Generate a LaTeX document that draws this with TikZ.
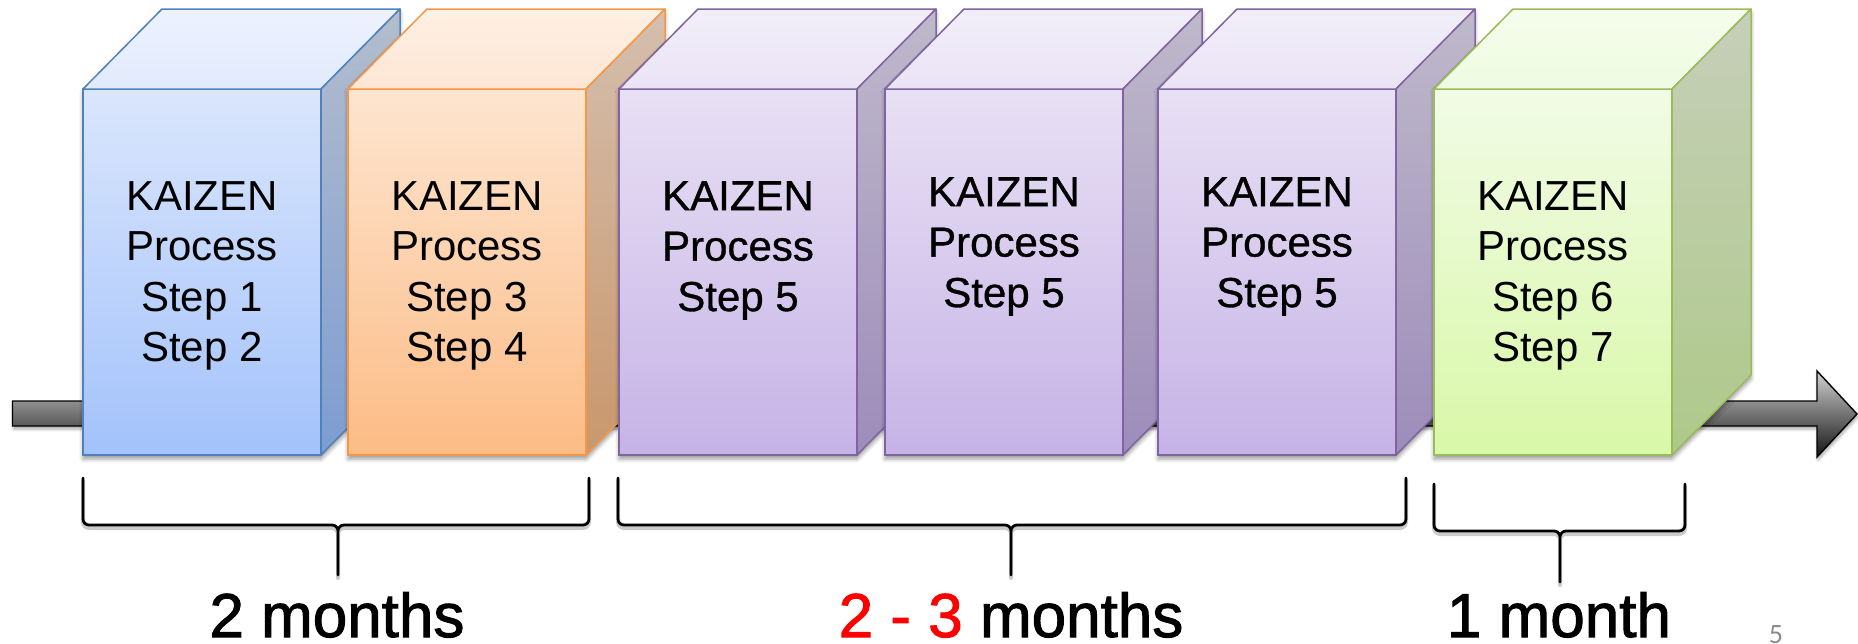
\documentclass[tikz,border=0pt]{standalone}
\usepackage{fontspec}
\setmainfont{Liberation Sans}
\newfontfamily\heavysans[FakeBold=0.8]{Liberation Sans}
\newfontfamily\labelsans[FakeBold=1.6]{Liberation Sans}
\newfontfamily\pagefont{Carlito}
\usetikzlibrary{shadows.blur}

% colour sets: edge, front (top/bottom), top face (top/bottom), side face (top/bottom)
\definecolor{blueedge}{HTML}{4F81BD}
\definecolor{blueftop}{HTML}{DAE6FC}
\definecolor{bluefbot}{HTML}{A3C2FB}
\definecolor{bluettop}{HTML}{EDF2FD}
\definecolor{bluetbot}{HTML}{E1EAFC}
\definecolor{bluestop}{HTML}{B3BDCD}
\definecolor{bluesbot}{HTML}{7C9DD1}

\definecolor{orangeedge}{HTML}{F79646}
\definecolor{orangeftop}{HTML}{FDE5D0}
\definecolor{orangefbot}{HTML}{FCBC86}
\definecolor{orangettop}{HTML}{FEF0E4}
\definecolor{orangetbot}{HTML}{FEE6D4}
\definecolor{orangestop}{HTML}{D4BFAE}
\definecolor{orangesbot}{HTML}{C9976C}

\definecolor{purpleedge}{HTML}{8064A2}
\definecolor{purpleftop}{HTML}{E8E0F4}
\definecolor{purplefbot}{HTML}{C6B3E6}
\definecolor{purplettop}{HTML}{F2EEF9}
\definecolor{purpletbot}{HTML}{EAE4F6}
\definecolor{purplestop}{HTML}{BFB9CB}
\definecolor{purplesbot}{HTML}{9D8CBA}

\definecolor{greenedge}{HTML}{9BBB59}
\definecolor{greenftop}{HTML}{F1FBE6}
\definecolor{greenfbot}{HTML}{D9F8A8}
\definecolor{greenttop}{HTML}{F5FDEC}
\definecolor{greentbot}{HTML}{EFFBE2}
\definecolor{greenstop}{HTML}{C6CFB9}
\definecolor{greensbot}{HTML}{AEC98A}

\tikzset{
  front/.style={draw=#1edge, line width=1.5pt, top color=#1ftop, bottom color=#1fbot,
    minimum width=238pt, minimum height=366pt, inner sep=0pt, outer sep=0pt, anchor=north west},
  topface/.style={draw=#1edge, line width=1.5pt, line join=round, top color=#1ttop, bottom color=#1tbot},
  sideface/.style={draw=#1edge, line width=1.5pt, line join=round, top color=#1stop, bottom color=#1sbot},
  cubeshadow/.style={blur shadow={shadow xshift=0pt, shadow yshift=-4pt, shadow blur radius=4pt, shadow opacity=40}},
  boxtext/.style={font=\fontsize{42}{50.5}\selectfont, align=center, anchor=north, inner sep=0pt},
  heavytext/.style={boxtext, font=\heavysans\fontsize{42}{50.5}\selectfont},
  bracepath/.style={draw=black, line width=2.8pt, rounded corners=6pt, line cap=round},
  braceshade/.style={bracepath, draw=black!45, line width=4pt, opacity=0.45},
  timeline/.style={draw=black, line width=1.4pt, line join=miter, top color=black!18, bottom color=black!92,
    blur shadow={shadow xshift=1pt, shadow yshift=-3pt, shadow blur radius=3pt, shadow opacity=35}},
  months/.style={font=\labelsans\fontsize{62}{70}\selectfont, anchor=base, inner sep=0pt},
}

% a cube: front face node #1, front-left x #2, colour set #3
\newcommand\kaizencube[3]{%
  \fill[cubeshadow, #3ftop] (#2,455) -- (#2,89) -- (#2+79,9) -- (#2+317,9) -- (#2+317,375) -- (#2+238,455) -- cycle;
  \node[front=#3] (#1) at (#2,89) {};
  \draw[topface=#3] (#1.north west) -- ++(79,-80) -- ++(238,0) -- (#1.north east) -- cycle;
  \draw[sideface=#3] (#1.north east) -- ++(79,-80) -- ++(0,366) -- (#1.south east) -- cycle;
}

% a brace: left, right, top, bar, tip x, bottom
\newcommand\timespan[6]{%
  \draw[braceshade, yshift=-3pt] (#1,#3) -- (#1,#4) -- (#5,#4) -- (#5,#6) (#2,#3) -- (#2,#4) -- (#5,#4) -- (#5,#6);
  \draw[bracepath] (#1,#3) -- (#1,#4) -- (#5,#4) -- (#5,#6) (#2,#3) -- (#2,#4) -- (#5,#4) -- (#5,#6);
}

\begin{document}
\begin{tikzpicture}[x=1pt, y=-1pt]
\useasboundingbox (0,0) rectangle (1858,643);

% timeline arrow behind the cubes
\path[timeline] (12.5,401) -- (1817,401) -- (1817,371) -- (1857,414) -- (1817,457) -- (1817,426) -- (12.5,426) -- cycle;

% the cubes
\kaizencube{b1}{83}{blue}
\kaizencube{b2}{348}{orange}
\kaizencube{b3}{619}{purple}
\kaizencube{b4}{885}{purple}
\kaizencube{b5}{1158}{purple}
\kaizencube{b6}{1434}{green}

% cube texts
\node[boxtext] (t1) at ([yshift=-92pt]b1.north) {KAIZEN\\Process\\Step 1\\Step 2};
\node[boxtext] (t2) at ([yshift=-92pt]b2.north) {KAIZEN\\Process\\Step 3\\Step 4};
\node[heavytext] (t3) at ([yshift=-92pt]b3.north) {KAIZEN\\Process\\Step 5};
\node[heavytext] (t4) at ([yshift=-88pt]b4.north) {KAIZEN\\Process\\Step 5};
\node[heavytext] (t5) at ([yshift=-88pt]b5.north) {KAIZEN\\Process\\Step 5};
\node[boxtext] (t6) at ([yshift=-92pt]b6.north) {KAIZEN\\Process\\Step 6\\Step 7};

% braces
\timespan{83}{589}{478}{525}{338}{575}
\timespan{618}{1406}{478}{525}{1011}{575}
\timespan{1434}{1685}{484}{531}{1560}{582}

% durations
\node[months] (d1) at (337,637) {2 months};
\node[months] (d2) at (1011,637) {\textcolor{red}{2 - 3} months};
\node[months] (d3) at (1559,637) {1 month};

% page number
\node[font=\pagefont\fontsize{28}{30}\selectfont, text=black!45, anchor=base, inner sep=0pt] (pg) at (1776,643) {5};
\end{tikzpicture}
\end{document}
